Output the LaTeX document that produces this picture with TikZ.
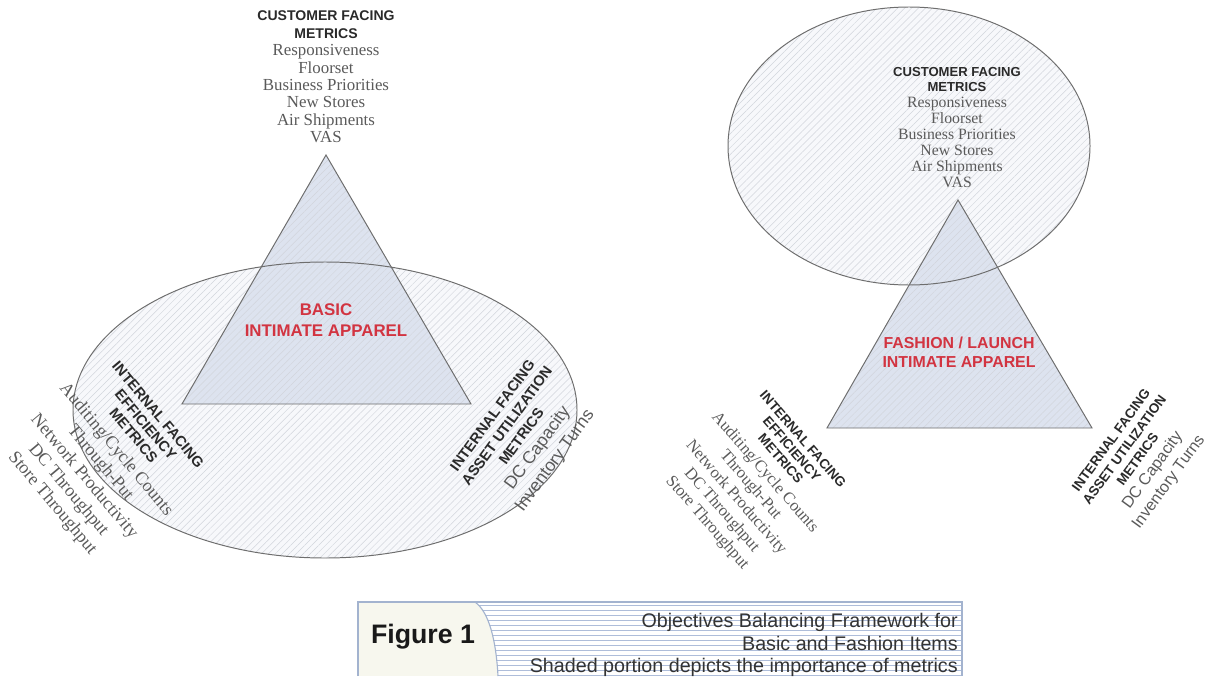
\documentclass[tikz,border=0pt]{standalone}
\usepackage{fontspec}
\setmainfont{Liberation Serif}
\setsansfont{Liberation Sans}
\usetikzlibrary{patterns.meta,positioning}

\definecolor{edgegray}{HTML}{6E6E6E}
\definecolor{hdgray}{HTML}{2A2A2A}
\definecolor{itemgray}{HTML}{5A5A5A}
\definecolor{apparelred}{HTML}{D23441}
\definecolor{ellfill}{HTML}{F7F8FB}
\definecolor{trifill}{HTML}{DDE3EF}
\definecolor{hatchgray}{HTML}{D2D5DC}
\definecolor{capcream}{HTML}{F7F7EE}
\definecolor{capline}{HTML}{A3B3CF}
\definecolor{stripeblue}{HTML}{AEBDDA}

% bold sans heading line, size given
\newcommand{\hdl}[2]{{\sffamily\bfseries\fontsize{#1}{#1}\selectfont\color{hdgray}#2}}

\tikzset{
  hatched/.style={postaction={pattern={Lines[angle=45,distance=3.5pt,line width=0.35pt]},pattern color=hatchgray}},
  ellshape/.style={fill=ellfill, hatched},
  trishape/.style={fill=trifill, hatched},
  outline/.style={draw=edgegray, line width=0.7pt},
  metric/.style={align=center, inner sep=0pt, text=itemgray},
  apparel/.style={align=center, inner sep=0pt, text=apparelred},
}

\begin{document}
\begin{tikzpicture}[x=0.025cm, y=-0.025cm]
  \useasboundingbox (0,0) rectangle (1207,676);

  % Basic: ellipse around the base
  \path[ellshape] (325,410) ellipse [x radius=252, y radius=148];
  \path[trishape] (326,155) -- (182,404) -- (471,404) -- cycle;
  \draw[outline] (325,410) ellipse [x radius=252, y radius=148];
  \draw[outline] (326,155) -- (182,404) -- (471,404) -- cycle;

  % Fashion: ellipse around the top
  \path[ellshape] (909,146) ellipse [x radius=181, y radius=139];
  \path[trishape] (958,200) -- (827,428) -- (1092,428) -- cycle;
  \draw[outline] (909,146) ellipse [x radius=181, y radius=139];
  \draw[outline] (958,200) -- (827,428) -- (1092,428) -- cycle;

  % customer facing
  \node[metric, anchor=north, font=\fontsize{12}{12.4}\selectfont] (custL) at (326,10.6)
    {\hdl{10}{CUSTOMER FACING}\\ \hdl{10}{METRICS}\\ Responsiveness\\ Floorset\\
     Business Priorities\\ New Stores\\ Air Shipments\\ VAS};
  \node[metric, anchor=north, font=\fontsize{11.2}{11.3}\selectfont] (custR) at (957,66.6)
    {\hdl{9.3}{CUSTOMER FACING}\\ \hdl{9.3}{METRICS}\\ Responsiveness\\ Floorset\\
     Business Priorities\\ New Stores\\ Air Shipments\\ VAS};

  % product labels
  \node[apparel, font=\sffamily\bfseries\fontsize{12}{15}\selectfont] (basic) at (326,320.5)
    {BASIC\\INTIMATE APPAREL};
  \node[apparel, font=\sffamily\bfseries\fontsize{11.3}{13.5}\selectfont] (fashion) at (959,352.5)
    {FASHION / LAUNCH\\INTIMATE APPAREL};

  % internal facing efficiency
  \node[metric, rotate=-50, font=\fontsize{12.8}{14.8}\selectfont] (effL) at (104,460)
    {\hdl{10.4}{INTERNAL FACING}\\[-3.4pt] \hdl{10.4}{EFFICIENCY}\\[-3.4pt] \hdl{10.4}{METRICS}\\[1pt]
     Auditing/Cycle Counts\\ Through-Put\\ Network Productivity\\ DC Throughput\\ Store Throughput};
  \node[metric, rotate=-49, font=\fontsize{11.8}{13.6}\selectfont] (effR) at (754,482)
    {\hdl{9.6}{INTERNAL FACING}\\[-3.1pt] \hdl{9.6}{EFFICIENCY}\\[-3.1pt] \hdl{9.6}{METRICS}\\[1pt]
     Auditing/Cycle Counts\\ Through-Put\\ Network Productivity\\ DC Throughput\\ Store Throughput};

  % internal facing asset utilization
  \node[metric, rotate=54, font=\sffamily\fontsize{12.5}{14.2}\selectfont] (assetL) at (525,439)
    {\hdl{10.4}{INTERNAL FACING}\\[-1.5pt] \hdl{10.4}{ASSET UTILIZATION}\\[-1.5pt] \hdl{10.4}{METRICS}\\
     DC Capacity\\[1pt] Inventory Turns};
  \node[metric, rotate=54, font=\sffamily\fontsize{11.5}{13.1}\selectfont] (assetR) at (1141,462)
    {\hdl{9.6}{INTERNAL FACING}\\[-1.4pt] \hdl{9.6}{ASSET UTILIZATION}\\[-1.4pt] \hdl{9.6}{METRICS}\\
     DC Capacity\\[1pt] Inventory Turns};

  % caption box
  \coordinate (capTop) at (475,602);
  \coordinate (capBot) at (498,676);
  \fill[capcream] (358,602) rectangle (962,676);
  \fill[white] (capTop) .. controls (489,612) and (496,640) .. (capBot) -- (962,676) -- (962,602) -- cycle;
  \begin{scope}
    \clip (capTop) .. controls (489,612) and (496,640) .. (capBot) -- (962,676) -- (962,602) -- cycle;
    \foreach \y in {605,610,...,675}
      \draw[stripeblue, line width=0.6pt] (460,\y) -- (962,\y);
  \end{scope}
  \draw[capline, line width=0.8pt] (358,676) -- (358,602) -- (962,602) -- (962,676);
  \draw[capline, line width=0.8pt] (capTop) .. controls (489,612) and (496,640) .. (capBot);

  \node[inner sep=0pt, text=black!90, font=\sffamily\bfseries\fontsize{19}{21}\selectfont] (fig) at (423,637)
    {Figure 1};
  \node[inner sep=0pt, align=right, anchor=north east, text=black!80,
        font=\sffamily\fontsize{14}{16}\selectfont] (caption) at (958,613)
    {Objectives Balancing Framework for\\ Basic and Fashion Items\\
     Shaded portion depicts the importance of metrics};
\end{tikzpicture}
\end{document}
